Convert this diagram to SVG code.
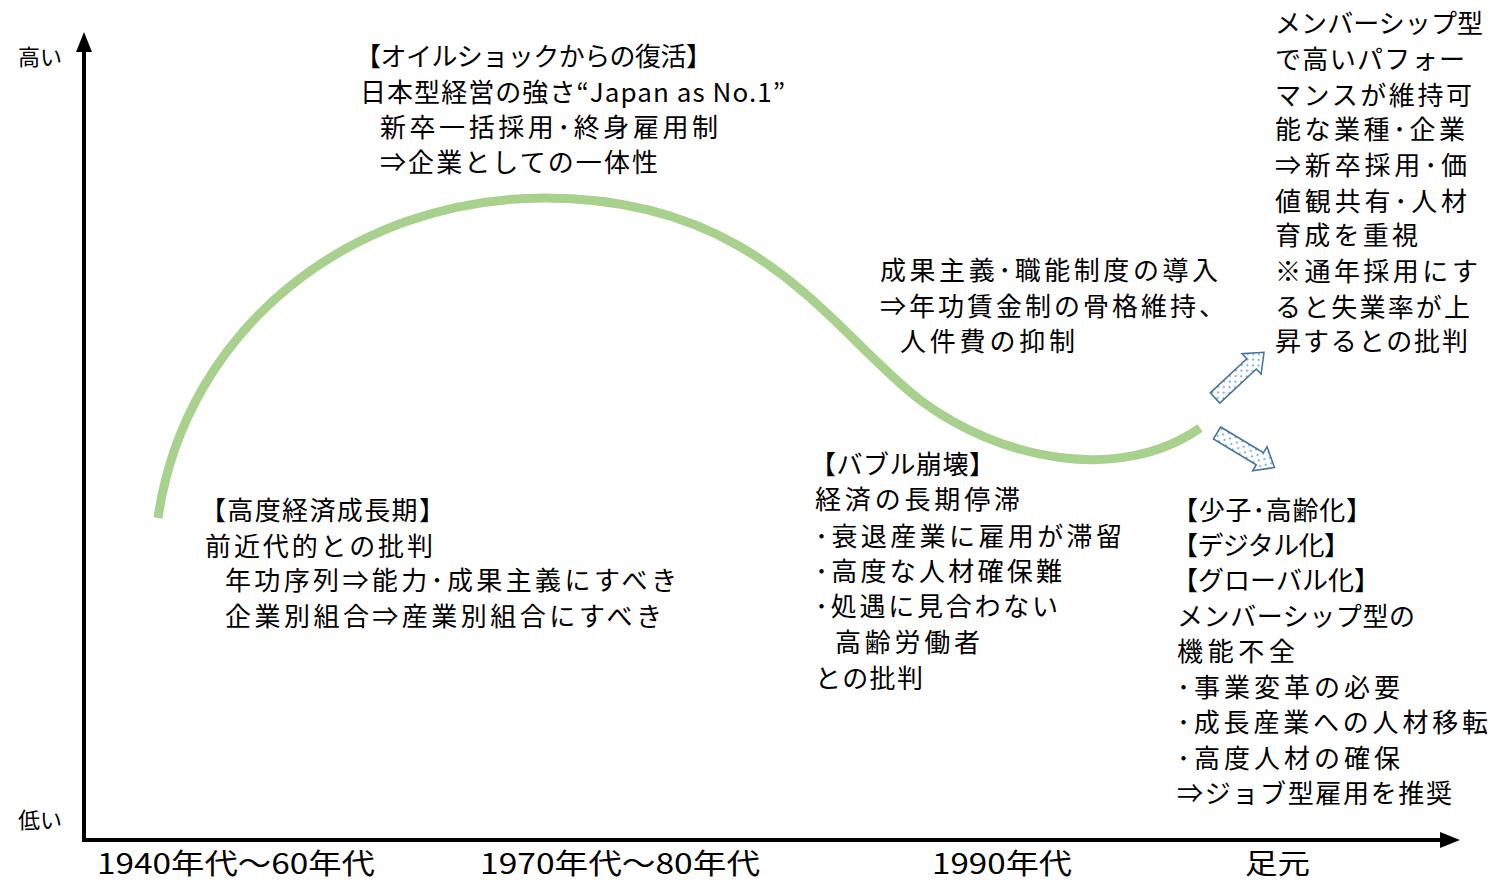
<svg xmlns="http://www.w3.org/2000/svg" width="1493" height="882" viewBox="0 0 1493 882">
<style>
text{font-family:"Noto Sans CJK JP","Noto Sans",sans-serif;fill:#000;}
.t{font-size:26px;}
.ax{font-size:22px;}
.bt{font-size:28px;}
.axis{stroke:#000;stroke-width:4;fill:none;}
.curve{stroke:#A9D18E;stroke-width:9;fill:none;}
.harrow{fill:url(#dots);stroke:#41719C;stroke-width:1.5;stroke-linejoin:miter;}
</style>
<defs>
<pattern id="dots" width="8" height="8" patternUnits="userSpaceOnUse">
<rect width="8" height="8" fill="#fff"/>
<circle cx="2" cy="2" r="1" fill="#5B9BD5"/>
<circle cx="6" cy="6" r="1" fill="#5B9BD5"/>
</pattern>
<marker id="ah" markerWidth="5" markerHeight="4" refX="1" refY="2" orient="auto" markerUnits="strokeWidth">
<path d="M0,0 L5,2 L0,4 Z" fill="#000"/>
</marker>
</defs>
<g id="connectors">
<path class="axis" d="M84,840 L84,48" marker-end="url(#ah)"/>
<path class="axis" d="M82,840 L1444,840" marker-end="url(#ah)"/>
<path id="trend" class="curve" d="M158,518 C185,330 350,198 545,198 C760,198 830,330 920,400 C1000,460 1120,484 1200,428"/>
<polygon class="harrow" transform="translate(1215,398) rotate(-43)" points="0,-7 50,-7 50,-14 67,0 50,14 50,7 0,7"/>
<polygon class="harrow" transform="translate(1217,433) rotate(31)" points="0,-7 50,-7 50,-14 67,0 50,14 50,7 0,7"/>
</g>
<g id="axis-labels">
<text class="ax" x="18" y="65" textLength="44" lengthAdjust="spacingAndGlyphs">高い</text>
<text class="ax" x="18" y="828" textLength="44" lengthAdjust="spacingAndGlyphs">低い</text>
</g>
<g id="period-labels">
<text class="bt" x="97" y="874" textLength="278" lengthAdjust="spacingAndGlyphs">1940年代～60年代</text>
<text class="bt" x="480" y="874" textLength="280" lengthAdjust="spacingAndGlyphs">1970年代～80年代</text>
<text class="bt" x="932" y="874" textLength="140" lengthAdjust="spacingAndGlyphs">1990年代</text>
<text class="bt" x="1245" y="874" textLength="65" lengthAdjust="spacingAndGlyphs">足元</text>
</g>
<g id="oil-shock">
<text class="t" x="355" y="66" textLength="357" lengthAdjust="spacing">【オイルショックからの復活】</text>
<text class="t" x="360" y="102" textLength="425" lengthAdjust="spacing">日本型経営の強さ“Japan as No.1”</text>
<text class="t" x="380" y="137" textLength="338" lengthAdjust="spacing">新卒一括採用･終身雇用制</text>
<text class="t" x="380" y="172" textLength="278" lengthAdjust="spacing">⇒企業としての一体性</text>
</g>
<g id="high-growth">
<text class="t" x="200" y="520" textLength="245" lengthAdjust="spacing">【高度経済成長期】</text>
<text class="t" x="205" y="556" textLength="228" lengthAdjust="spacing">前近代的との批判</text>
<text class="t" x="225" y="590" textLength="452" lengthAdjust="spacing">年功序列⇒能力･成果主義にすべき</text>
<text class="t" x="225" y="626" textLength="437" lengthAdjust="spacing">企業別組合⇒産業別組合にすべき</text>
</g>
<g id="performance">
<text class="t" x="880" y="280" textLength="338" lengthAdjust="spacing">成果主義･職能制度の導入</text>
<text class="t" x="880" y="316" textLength="345" lengthAdjust="spacing">⇒年功賃金制の骨格維持、</text>
<text class="t" x="900" y="351" textLength="175" lengthAdjust="spacing">人件費の抑制</text>
</g>
<g id="bubble">
<text class="t" x="810" y="474" textLength="185" lengthAdjust="spacing">【バブル崩壊】</text>
<text class="t" x="815" y="509" textLength="205" lengthAdjust="spacing">経済の長期停滞</text>
<text class="t" x="815" y="546" textLength="307" lengthAdjust="spacing">･衰退産業に雇用が滞留</text>
<text class="t" x="815" y="581" textLength="247" lengthAdjust="spacing">･高度な人材確保難</text>
<text class="t" x="815" y="616" textLength="243" lengthAdjust="spacing">･処遇に見合わない</text>
<text class="t" x="835" y="652" textLength="145" lengthAdjust="spacing">高齢労働者</text>
<text class="t" x="815" y="688" textLength="108" lengthAdjust="spacing">との批判</text>
</g>
<g id="membership">
<text class="t" x="1275" y="33" textLength="208" lengthAdjust="spacing">メンバーシップ型</text>
<text class="t" x="1275" y="69" textLength="190" lengthAdjust="spacing">で高いパフォー</text>
<text class="t" x="1275" y="105" textLength="197" lengthAdjust="spacing">マンスが維持可</text>
<text class="t" x="1275" y="139" textLength="190" lengthAdjust="spacing">能な業種･企業</text>
<text class="t" x="1275" y="175" textLength="192" lengthAdjust="spacing">⇒新卒採用･価</text>
<text class="t" x="1275" y="211" textLength="192" lengthAdjust="spacing">値観共有･人材</text>
<text class="t" x="1275" y="245" textLength="143" lengthAdjust="spacing">育成を重視</text>
<text class="t" x="1275" y="281" textLength="203" lengthAdjust="spacing">※通年採用にす</text>
<text class="t" x="1275" y="317" textLength="195" lengthAdjust="spacing">ると失業率が上</text>
<text class="t" x="1275" y="351" textLength="193" lengthAdjust="spacing">昇するとの批判</text>
</g>
<g id="current">
<text class="t" x="1172" y="520" textLength="200" lengthAdjust="spacing">【少子･高齢化】</text>
<text class="t" x="1172" y="555" textLength="178" lengthAdjust="spacing">【デジタル化】</text>
<text class="t" x="1172" y="590" textLength="208" lengthAdjust="spacing">【グローバル化】</text>
<text class="t" x="1177" y="626" textLength="238" lengthAdjust="spacing">メンバーシップ型の</text>
<text class="t" x="1177" y="661" textLength="118" lengthAdjust="spacing">機能不全</text>
<text class="t" x="1177" y="697" textLength="223" lengthAdjust="spacing">･事業変革の必要</text>
<text class="t" x="1177" y="732" textLength="311" lengthAdjust="spacing">･成長産業への人材移転</text>
<text class="t" x="1177" y="768" textLength="223" lengthAdjust="spacing">･高度人材の確保</text>
<text class="t" x="1177" y="803" textLength="275" lengthAdjust="spacing">⇒ジョブ型雇用を推奨</text>
</g>
</svg>
